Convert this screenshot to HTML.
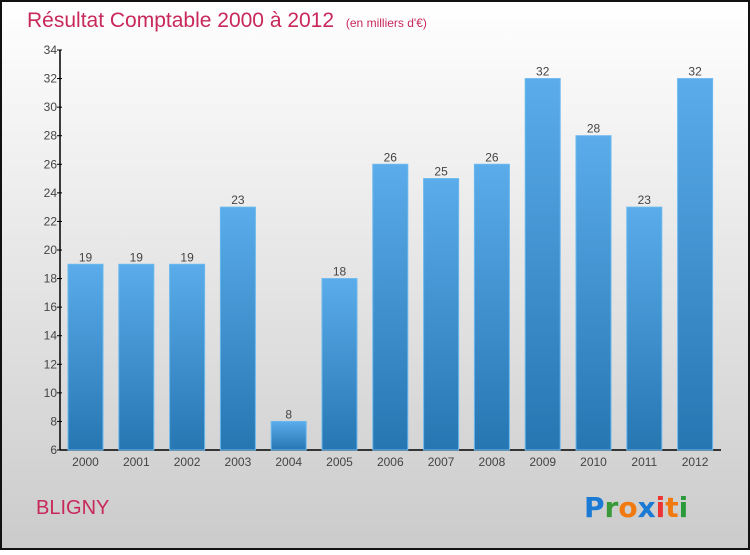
<!DOCTYPE html>
<html><head><meta charset="utf-8"><style>
body{margin:0}
#wrap{position:relative;width:750px;height:550px;font-family:"Liberation Sans",sans-serif}
</style></head><body>
<div id="wrap">
<svg id="chart" width="750" height="550">
<defs>
<linearGradient id="bg" x1="0" y1="0" x2="0" y2="1"><stop offset="0" stop-color="#ffffff"/><stop offset="1" stop-color="#cbcbcb"/></linearGradient>
<linearGradient id="bar" x1="0" y1="0" x2="0" y2="1"><stop offset="0" stop-color="#5aacea"/><stop offset="1" stop-color="#2676b2"/></linearGradient>
</defs>
<rect x="1" y="1" width="748" height="548" fill="url(#bg)" stroke="#111" stroke-width="2"/>
<text x="27" y="27" font-size="21" fill="#c8285a">Résultat Comptable 2000 à 2012 <tspan font-size="12" dx="6">(en milliers d'€)</tspan></text>
<g id="axes"></g>
<g id="bars"></g>
<text x="36" y="514" font-size="20" fill="#c8285a">BLIGNY</text>
<g font-size="28" font-weight="bold" font-family="'DejaVu Sans',sans-serif">
<text x="584" y="517"><tspan fill="#1a7ad4">P</tspan><tspan fill="#3a9a3a">r</tspan><tspan fill="#f07a10">o</tspan><tspan fill="#1a7ad4">x</tspan><tspan fill="#e33">i</tspan><tspan fill="#f07a10">t</tspan><tspan fill="#2a9a3a">i</tspan></text>
</g>
</svg>
</div>
<script>
const years=["2000","2001","2002","2003","2004","2005","2006","2007","2008","2009","2010","2011","2012"];
const values=[19,19,19,23,8,18,26,25,26,32,28,23,32];
const yTicks=[6,8,10,12,14,16,18,20,22,24,26,28,30,32,34];
const NS="http://www.w3.org/2000/svg";
const yMin=6,yMax=34,plotTop=50,plotBot=450,plotLeft=60,plotRight=721;
const yScale=v=>plotBot-(v-yMin)/(yMax-yMin)*(plotBot-plotTop);
const xc=i=>85.5+i*50.8;
function mk(t,a,p){const e=document.createElementNS(NS,t);for(const k in a)e.setAttribute(k,a[k]);p.appendChild(e);return e;}
const ax=document.getElementById('axes'),bg=document.getElementById('bars');
const yl=mk('line',{x1:plotLeft,y1:plotTop,x2:plotLeft,y2:plotBot,stroke:'#000','stroke-width':1.5},ax);


const xl=mk('line',{x1:plotLeft,y1:plotBot,x2:plotRight,y2:plotBot,stroke:'#000','stroke-width':1.5},ax);


yTicks.forEach(v=>{
 mk('line',{x1:plotLeft-3,y1:yScale(v),x2:plotLeft+2,y2:yScale(v),stroke:'#000'},ax);
 const t=mk('text',{x:plotLeft-3,y:yScale(v)+4,'font-size':12,fill:'#444','text-anchor':'end'},ax);
 t.textContent=v;
 
 
});
years.forEach((yr,i)=>{
 const v=values[i],c=xc(i);
 const r=mk('rect',{x:c-17.5,y:yScale(v),width:35,height:plotBot-yScale(v),fill:'url(#bar)',stroke:'#6ab8ee','stroke-width':1},bg);
 
 
 const l=mk('text',{x:c,y:yScale(v)-3,'font-size':12,fill:'#444','text-anchor':'middle'},bg);
 l.textContent=v;
 
 
 const xt=mk('text',{x:c,y:466,'font-size':12,fill:'#444','text-anchor':'middle'},bg);
 xt.textContent=yr;
 
 
});
</script>
</body></html>
